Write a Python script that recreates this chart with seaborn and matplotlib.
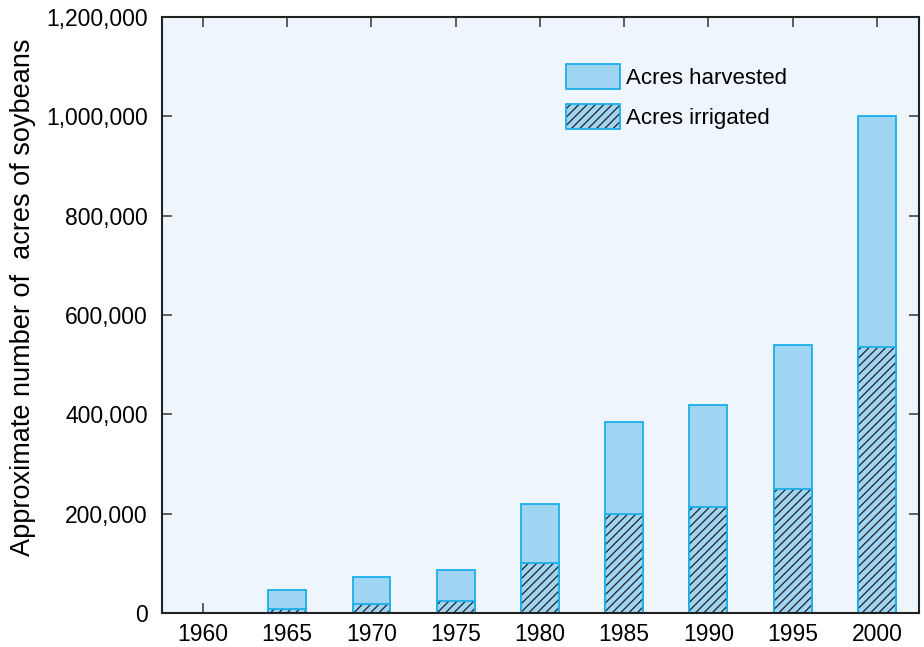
import numpy as np
import pandas as pd
import matplotlib
matplotlib.use("Agg")
import matplotlib.pyplot as plt
import matplotlib.patches as mpatches
from matplotlib.ticker import FuncFormatter
import seaborn as sns

years = ["1960", "1965", "1970", "1975", "1980", "1985", "1990", "1995", "2000"]
harvested = [0, 46000, 72000, 87000, 219000, 385000, 419000, 540000, 1000000]
irrigated = [0, 8000, 18000, 24000, 100000, 200000, 213000, 250000, 535000]

df = pd.DataFrame({"Year": years, "Harvested": harvested, "Irrigated": irrigated})

sns.set_style("white")
plt.rcParams["font.family"] = ["Liberation Sans", "DejaVu Sans"]
plt.rcParams["hatch.linewidth"] = 0.9
plt.rcParams["text.color"] = "black"

fill = "#A0D4F3"
edge = "#1AB0EA"
hatch_col = "#222222"

fig = plt.figure(figsize=(9.24, 6.47), dpi=100)
ax = fig.add_axes([0.175, 0.0526, 0.8196, 0.9214])
ax.set_facecolor("#EEF5FC")

sns.barplot(data=df, x="Year", y="Harvested", order=years, color=fill,
            width=0.45, saturation=1, edgecolor=edge, linewidth=1.3, ax=ax)
n_before = len(ax.patches)
sns.barplot(data=df, x="Year", y="Irrigated", order=years, color=fill,
            width=0.45, saturation=1, edgecolor=hatch_col, linewidth=0, ax=ax)
# hatch takes the edge colour, so draw the blue outline as a separate overlay
for p in list(ax.patches[n_before:]):
    p.set_hatch("////")
    ax.add_patch(mpatches.Rectangle(p.get_xy(), p.get_width(), p.get_height(),
                                    facecolor="none", edgecolor=edge, linewidth=1.3, zorder=2))

ax.set_xlim(-0.49, 8.5)
ax.set_ylim(0, 1200000)
ax.set_yticks(np.arange(0, 1200001, 200000))
ax.yaxis.set_major_formatter(FuncFormatter(lambda v, _: f"{int(v):,}"))
ax.set_xlabel("")
ax.set_ylabel("Approximate number of  acres of soybeans", fontsize=19.5, color="black")
ax.yaxis.set_label_coords(-0.166, 0.53)

for s in ax.spines.values():
    s.set_visible(True)
    s.set_color("#222222")
    s.set_linewidth(1.5)
    s.set_zorder(3)

ax.tick_params(axis="both", direction="in", length=7, width=1.2, color="#444444",
               top=True, right=True, bottom=True, left=True,
               labelsize=16.5, labelcolor="black")
ax.tick_params(axis="y", pad=10)
ax.tick_params(axis="x", pad=7)

h1 = mpatches.Patch(facecolor=fill, edgecolor=edge, linewidth=1.3)
h2a = mpatches.Patch(facecolor=fill, edgecolor=hatch_col, linewidth=0, hatch="////")
h2b = mpatches.Patch(facecolor="none", edgecolor=edge, linewidth=1.3)
leg = ax.legend(handles=[h1, (h2a, h2b)], labels=["Acres harvested", "Acres irrigated"],
                loc="upper left", bbox_to_anchor=(0.508, 0.955),
                frameon=False, fontsize=16, handlelength=2.4, handleheight=1.35,
                labelspacing=0.7, handletextpad=0.3)

fig.savefig("out.png", dpi=100)
